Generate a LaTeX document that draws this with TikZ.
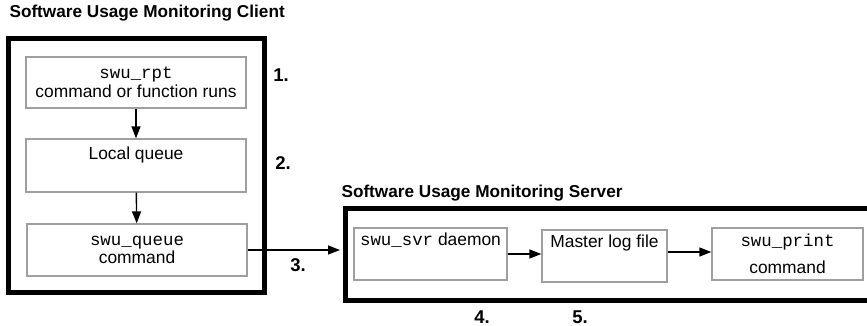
\documentclass[tikz,border=0pt]{standalone}
\usepackage{fontspec}
\setmainfont{Liberation Sans}
\setmonofont{Liberation Mono}
\usetikzlibrary{arrows.meta}

\tikzset{
  frame/.style={draw, line width=5pt, inner sep=0pt},
  stage/.style={draw=gray!75, line width=1.3pt, inner sep=0pt, align=center,
    font=\fontsize{17.4}{18.5}\selectfont},
  flow/.style={line width=1.4pt, -{Triangle[length=12pt,width=9pt]}},
  heading/.style={anchor=west, font=\fontsize{17.2}{19}\selectfont\bfseries},
  stepno/.style={font=\fontsize{18.5}{19}\selectfont\bfseries}
}

\begin{document}
\begin{tikzpicture}[x=1pt, y=-1pt]
    \useasboundingbox (0,0) rectangle (867,326);
    \clip (0,0) rectangle (867,326);

    % Frames
    \node[frame, minimum width=256pt, minimum height=253pt] (client) at (136,165.5) {};
    \node[frame, minimum width=540pt, minimum height=92pt] (server) at (615,254) {};

    % Titles
    \node[heading] (clienttitle) at (6,13) {Software Usage Monitoring Client};
    \node[heading] (servertitle) at (338,193) {Software Usage Monitoring Server};

    % Client stages
    \node[stage, minimum width=220pt, minimum height=51pt] (rpt) at (136,82.5)
        {\texttt{swu\_rpt}\\command or function runs};
    \node[stage, minimum width=220pt, minimum height=53pt] (local) at (136,165.5)
        {Local queue\\\strut};
    \node[stage, minimum width=220pt, minimum height=52pt] (queue) at (137,250)
        {\texttt{swu\_queue}\\command};

    % Server stages
    \node[stage, minimum width=153pt, minimum height=52pt] (svr) at (430.5,254)
        {\texttt{swu\_svr} daemon\\[6pt]\strut};
    \node[stage, minimum width=125pt, minimum height=52pt] (log) at (604.5,256)
        {Master log file\\[6pt]\strut};
    \node[stage, minimum width=151pt, minimum height=52pt] (print) at (787.5,254)
        {\texttt{swu\_print}\\[9pt]command};

    % Connectors
    \draw[flow] (rpt) -- (local);
    \draw[flow] (local) -- (queue);
    \draw[flow, shorten >=2.5pt] (queue.east) -- (queue.east -| server.west);
    \draw[flow] (svr.east) -- (svr.east -| log.west);
    \draw[flow] (log.east |- 0,252) -- (print.west |- 0,252);

    % Step numbers
    \node[stepno] (s1) at (281,75) {1.};
    \node[stepno] (s2) at (283,163) {2.};
    \node[stepno] (s3) at (298,265) {3.};
    \node[stepno] (s4) at (482,317) {4.};
    \node[stepno] (s5) at (580,317) {5.};
\end{tikzpicture}
\end{document}
